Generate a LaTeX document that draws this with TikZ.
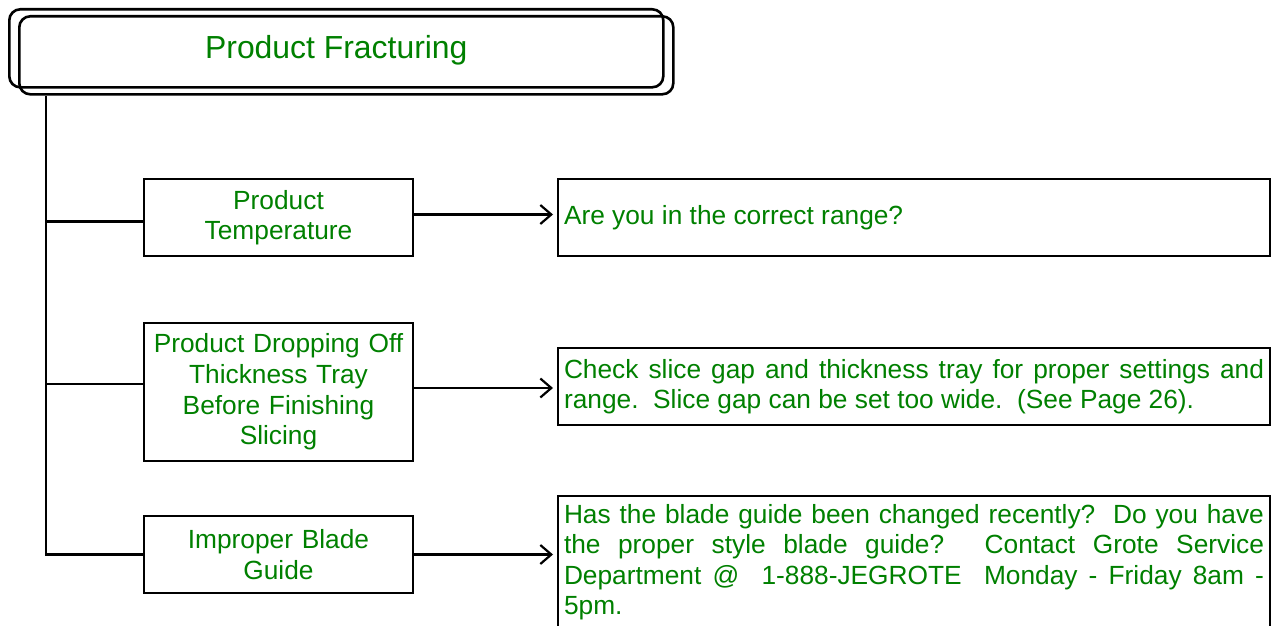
\documentclass[tikz,border=0pt]{standalone}
\usepackage{fontspec}
\setmainfont{Liberation Sans}
\usetikzlibrary{arrows.meta}
\definecolor{txtgreen}{RGB}{0,128,0}
\begin{document}
\begin{tikzpicture}[x=1pt,y=-1pt,
  titlebox/.style={draw,line width=2.6pt,rounded corners=11pt,inner sep=0pt,
    anchor=north west,minimum width=654pt,minimum height=78pt,
    text=txtgreen,font=\fontsize{31.9}{36}\selectfont},
  causebox/.style={draw,line width=2pt,inner sep=0pt,anchor=north west,
    minimum width=269pt,text width=262pt,align=center,
    text=txtgreen,font=\fontsize{26.3}{30.6}\selectfont},
  fixbox/.style={draw,line width=2pt,inner xsep=6pt,inner ysep=0pt,anchor=north west,
    minimum width=712pt,text width=700pt,align=justify,
    text=txtgreen,font=\fontsize{26.3}{30.4}\selectfont},
  link/.style={line width=2.2pt},
  arrow/.style={line width=2.2pt,-{Straight Barb[length=11pt,width=19pt,line width=2.2pt]},shorten >=4pt}]
\useasboundingbox (0,0) rectangle (1282,626);

% title plate with its offset outline
\node[titlebox,text height=27pt,text depth=7pt] (title) at (8,8) {Product Fracturing};
\node[titlebox] (titleback) at (18,15) {};
\coordinate (spine) at ([xshift=28pt]titleback.south west);

% causes
\node[causebox,minimum height=77pt] (temp) at (143,178) {Product\\Temperature};
\node[causebox,minimum height=138pt] (drop) at (143,322) {Product Dropping Off\\Thickness Tray\\Before Finishing\\Slicing};
\node[causebox,minimum height=77pt] (blade) at (143,515) {Improper Blade\\Guide};

% remedies
\node[fixbox,minimum height=77pt] (range) at (557,178) {Are you in the correct range?};
\node[fixbox,minimum height=77pt] (gap) at (557,347) {Check slice gap and thickness tray for proper settings and\linebreak range.\ \ Slice gap can be set too wide.\ \ (See Page 26).};
\node[fixbox,minimum height=132pt] (guide) at (557,495) {Has the blade guide been changed recently?\ \ Do you have\linebreak the proper style blade guide? Contact Grote Service\linebreak Department @\ \ 1-888-JEGROTE\ \ Monday - Friday 8am -\linebreak 5pm.};

% joints where the branches meet the cause boxes, and where the arrows leave them
\coordinate (tempjoin) at ([yshift=-4pt]temp.west);
\coordinate (dropjoin) at ([yshift=8pt]drop.west);
\coordinate (tempout) at ([yshift=3pt]temp.east);
\coordinate (dropout) at ([yshift=4pt]drop.east);

% tree lines
\draw[link] (spine) -- (spine |- blade.west) -- (blade.west);
\draw[link] (spine |- tempjoin) -- (tempjoin);
\draw[link] (spine |- dropjoin) -- (dropjoin);

% arrows to remedies
\draw[arrow] (tempout) -- (tempout -| range.west);
\draw[arrow] (dropout) -- (dropout -| gap.west);
\draw[arrow] (blade.east) -- (blade.east -| guide.west);
\end{tikzpicture}
\end{document}
